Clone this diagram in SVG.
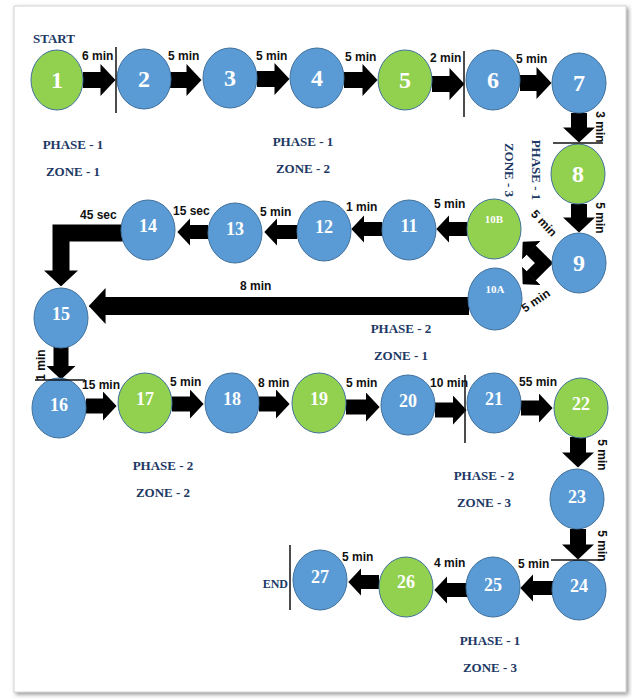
<svg xmlns="http://www.w3.org/2000/svg" width="632" height="699" viewBox="0 0 632 699">
<defs>
<filter id="sh" x="-5%" y="-5%" width="110%" height="110%">
<feDropShadow dx="2" dy="2" stdDeviation="2" flood-color="#777" flood-opacity="0.8"/>
</filter>
<marker id="ah" viewBox="0 0 15 32" refX="0.5" refY="16" markerWidth="0.94" markerHeight="2" markerUnits="strokeWidth" orient="auto-start-reverse">
<path d="M0,0 L15,16 L0,32 Z" fill="#000"/>
</marker>
<style>
.n ellipse{stroke:#41719C;stroke-width:1}
.b{fill:#5B9BD5}
.g{fill:#92D050}
.num{font-family:"Liberation Serif",serif;font-weight:bold;fill:#fff;text-anchor:middle}
.big{font-size:24px}
.mid{font-size:18px}
.sm{font-size:11px}
.t{font-family:"Liberation Sans",Arial,sans-serif;font-weight:bold;font-size:12px;fill:#111}
.p{font-family:"Liberation Serif",serif;font-weight:bold;font-size:13px;fill:#203864;text-anchor:middle}
.c{stroke:#000;fill:none;stroke-linejoin:miter;marker-end:url(#ah)}
.sep{stroke:#111;stroke-width:1.5}
</style>
</defs>
<rect x="0" y="0" width="632" height="699" fill="#fff"/>
<rect x="14" y="6" width="612" height="686" fill="#fff" stroke="#d4d4d4" stroke-width="1" filter="url(#sh)"/>

<g id="connectors">
<line class="c" stroke-width="16" x1="83" y1="80" x2="101" y2="80"/>
<line class="c" stroke-width="16" x1="170" y1="80" x2="187" y2="80"/>
<line class="c" stroke-width="16" x1="257" y1="79" x2="275" y2="79"/>
<line class="c" stroke-width="16" x1="344" y1="80" x2="363" y2="80"/>
<line class="c" stroke-width="16" x1="432" y1="84" x2="450" y2="84"/>
<line class="c" stroke-width="16" x1="520" y1="83" x2="537" y2="83"/>
<line class="c" stroke-width="16" x1="579" y1="113" x2="579" y2="128"/>
<line class="c" stroke-width="16" x1="579" y1="204" x2="579" y2="218"/>
<polyline class="c" stroke-width="13" style="marker-start:url(#ah)" points="531,250 544,263 531,276"/>
<line class="c" stroke-width="14" x1="467" y1="229" x2="449" y2="229"/>
<line class="c" stroke-width="14" x1="382" y1="229" x2="364" y2="229"/>
<line class="c" stroke-width="14" x1="297" y1="232" x2="277" y2="232"/>
<line class="c" stroke-width="14" x1="208" y1="232" x2="190" y2="232"/>
<polyline class="c" stroke-width="17" points="124,233 61,233 61,271"/>
<line class="c" stroke-width="18" x1="469" y1="306" x2="105" y2="306"/>
<line class="c" stroke-width="15" x1="61" y1="347" x2="61" y2="366"/>
<line class="c" stroke-width="15" x1="86" y1="406" x2="103" y2="406"/>
<line class="c" stroke-width="15" x1="172" y1="404" x2="190" y2="404"/>
<line class="c" stroke-width="15" x1="259" y1="404" x2="276" y2="404"/>
<line class="c" stroke-width="15" x1="346" y1="407" x2="366" y2="407"/>
<line class="c" stroke-width="15" x1="435" y1="410" x2="453" y2="410"/>
<line class="c" stroke-width="15" x1="521" y1="408" x2="539" y2="408"/>
<line class="c" stroke-width="16" x1="578" y1="437" x2="578" y2="453"/>
<line class="c" stroke-width="16" x1="578" y1="529" x2="578" y2="545"/>
<line class="c" stroke-width="14" x1="553" y1="588" x2="533" y2="588"/>
<line class="c" stroke-width="14" x1="467" y1="590" x2="447" y2="590"/>
<line class="c" stroke-width="14" x1="379" y1="582" x2="361" y2="582"/>
</g>

<g id="n1" class="n"><ellipse class="g" cx="57" cy="80" rx="26" ry="30"/><text class="num big" x="57" y="88">1</text></g>
<g id="n2" class="n"><ellipse class="b" cx="144" cy="79" rx="27" ry="30"/><text class="num big" x="144" y="87">2</text></g>
<g id="n3" class="n"><ellipse class="b" cx="230" cy="78" rx="27" ry="30"/><text class="num big" x="230" y="86">3</text></g>
<g id="n4" class="n"><ellipse class="b" cx="317" cy="78" rx="27" ry="30"/><text class="num big" x="317" y="86">4</text></g>
<g id="n5" class="n"><ellipse class="g" cx="405" cy="80" rx="27" ry="30"/><text class="num big" x="405" y="88">5</text></g>
<g id="n6" class="n"><ellipse class="b" cx="493" cy="80" rx="27" ry="30"/><text class="num big" x="493" y="88">6</text></g>
<g id="n7" class="n"><ellipse class="b" cx="579" cy="83" rx="27" ry="30"/><text class="num big" x="579" y="91">7</text></g>
<g id="n8" class="n"><ellipse class="g" cx="578" cy="174" rx="27" ry="30"/><text class="num big" x="578" y="182">8</text></g>
<g id="n9" class="n"><ellipse class="b" cx="579" cy="263" rx="27" ry="30"/><text class="num big" x="579" y="271">9</text></g>
<g id="n10B" class="n"><ellipse class="g" cx="494" cy="229" rx="27" ry="30"/><text class="num sm" x="494" y="223">10B</text></g>
<g id="n10A" class="n"><ellipse class="b" cx="495" cy="299" rx="27" ry="31"/><text class="num sm" x="495" y="293">10A</text></g>
<g id="n11" class="n"><ellipse class="b" cx="409" cy="230" rx="27" ry="30"/><text class="num mid" x="409" y="232">11</text></g>
<g id="n12" class="n"><ellipse class="b" cx="324" cy="231" rx="27" ry="30"/><text class="num mid" x="324" y="233">12</text></g>
<g id="n13" class="n"><ellipse class="b" cx="235" cy="233" rx="27" ry="30"/><text class="num mid" x="235" y="235">13</text></g>
<g id="n14" class="n"><ellipse class="b" cx="148" cy="230" rx="27" ry="30"/><text class="num mid" x="148" y="232">14</text></g>
<g id="n15" class="n"><ellipse class="b" cx="61" cy="318" rx="27" ry="30"/><text class="num mid" x="61" y="320">15</text></g>
<g id="n16" class="n"><ellipse class="b" cx="59" cy="408" rx="27" ry="30"/><text class="num mid" x="59" y="411">16</text></g>
<g id="n17" class="n"><ellipse class="g" cx="145" cy="403" rx="27" ry="30"/><text class="num mid" x="145" y="405">17</text></g>
<g id="n18" class="n"><ellipse class="b" cx="232" cy="403" rx="27" ry="30"/><text class="num mid" x="232" y="405">18</text></g>
<g id="n19" class="n"><ellipse class="g" cx="319" cy="403" rx="27" ry="30"/><text class="num mid" x="319" y="405">19</text></g>
<g id="n20" class="n"><ellipse class="b" cx="408" cy="405" rx="27" ry="30"/><text class="num mid" x="408" y="407">20</text></g>
<g id="n21" class="n"><ellipse class="b" cx="494" cy="403" rx="27" ry="30"/><text class="num mid" x="494" y="405">21</text></g>
<g id="n22" class="n"><ellipse class="g" cx="581" cy="408" rx="27" ry="30"/><text class="num mid" x="581" y="410">22</text></g>
<g id="n23" class="n"><ellipse class="b" cx="577" cy="499" rx="27" ry="30"/><text class="num mid" x="577" y="503">23</text></g>
<g id="n24" class="n"><ellipse class="b" cx="579" cy="590" rx="27" ry="30"/><text class="num mid" x="579" y="592">24</text></g>
<g id="n25" class="n"><ellipse class="b" cx="493" cy="587" rx="27" ry="30"/><text class="num mid" x="493" y="591">25</text></g>
<g id="n26" class="n"><ellipse class="g" cx="406" cy="587" rx="27" ry="30"/><text class="num mid" x="406" y="588">26</text></g>
<g id="n27" class="n"><ellipse class="b" cx="320" cy="580" rx="27" ry="30"/><text class="num mid" x="320" y="583">27</text></g>

<g id="separators">
<line class="sep" x1="116" y1="47" x2="116" y2="113"/>
<line class="sep" x1="464" y1="51" x2="464" y2="117"/>
<line class="sep" x1="553" y1="143" x2="603" y2="143"/>
<line class="sep" x1="35" y1="380" x2="85" y2="380"/>
<line class="sep" x1="465" y1="375" x2="465" y2="443"/>
<line class="sep" x1="551" y1="560" x2="602" y2="560"/>
<line class="sep" x1="290" y1="545" x2="290" y2="610"/>
</g>

<g id="time-labels">
<text class="t" x="82" y="60">6 min</text>
<text class="t" x="168" y="60">5 min</text>
<text class="t" x="256" y="60">5 min</text>
<text class="t" x="345" y="61">5 min</text>
<text class="t" x="430" y="62">2 min</text>
<text class="t" x="516" y="63">5 min</text>
<text class="t" text-anchor="middle" transform="translate(596,127) rotate(90)">3 min</text>
<text class="t" text-anchor="middle" transform="translate(596,218) rotate(90)">5 min</text>
<text class="t" text-anchor="middle" transform="translate(541,226) rotate(47)">5 min</text>
<text class="t" text-anchor="middle" transform="translate(538,304) rotate(-34)">5 min</text>
<text class="t" x="434" y="208">5 min</text>
<text class="t" x="346" y="211">1 min</text>
<text class="t" x="260" y="216">5 min</text>
<text class="t" x="173" y="215">15 sec</text>
<text class="t" x="80" y="219">45 sec</text>
<text class="t" x="240" y="290">8 min</text>
<text class="t" text-anchor="middle" transform="translate(45,365) rotate(-90)">1 min</text>
<text class="t" x="82" y="389">15 min</text>
<text class="t" x="170" y="386">5 min</text>
<text class="t" x="258" y="387">8 min</text>
<text class="t" x="346" y="387">5 min</text>
<text class="t" x="430" y="387">10 min</text>
<text class="t" x="519" y="386">55 min</text>
<text class="t" text-anchor="middle" transform="translate(598,455) rotate(90)">5 min</text>
<text class="t" text-anchor="middle" transform="translate(598,546) rotate(90)">5 min</text>
<text class="t" x="518" y="568">5 min</text>
<text class="t" x="434" y="567">4 min</text>
<text class="t" x="342" y="561">5 min</text>
</g>

<g id="zone-labels">
<text class="p" x="33" y="43" text-anchor="start" style="text-anchor:start">START</text>
<text class="p" x="288" y="588" style="text-anchor:end;font-size:12px">END</text>
<text class="p" x="73" y="149">PHASE - 1</text>
<text class="p" x="73" y="176">ZONE - 1</text>
<text class="p" x="303" y="146">PHASE - 1</text>
<text class="p" x="303" y="173">ZONE - 2</text>
<text class="p" transform="translate(532,170) rotate(90)">PHASE - 1</text>
<text class="p" transform="translate(505,170) rotate(90)">ZONE - 3</text>
<text class="p" x="401" y="333">PHASE - 2</text>
<text class="p" x="401" y="360">ZONE - 1</text>
<text class="p" x="163" y="470">PHASE - 2</text>
<text class="p" x="163" y="497">ZONE - 2</text>
<text class="p" x="484" y="480">PHASE - 2</text>
<text class="p" x="484" y="507">ZONE - 3</text>
<text class="p" x="490" y="645">PHASE - 1</text>
<text class="p" x="490" y="672">ZONE - 3</text>
</g>
</svg>
